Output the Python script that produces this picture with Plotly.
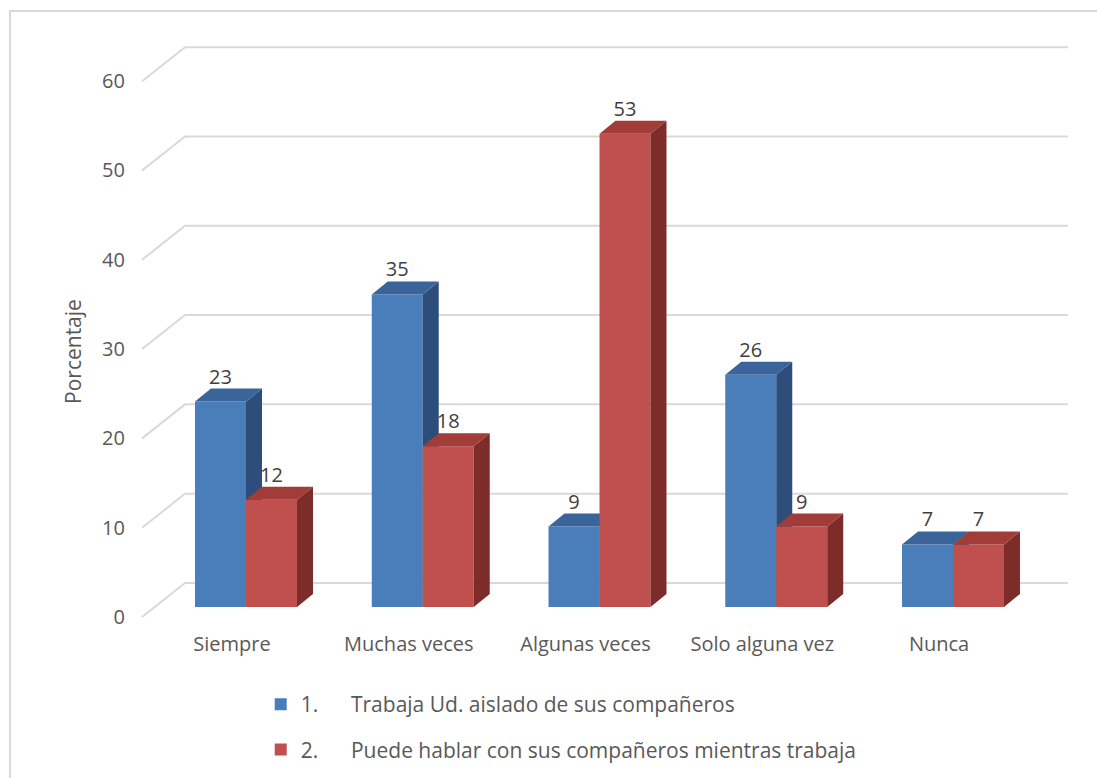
import plotly.graph_objects as go

# ---- data -------------------------------------------------------------
categories = ["Siempre", "Muchas veces", "Algunas veces", "Solo alguna vez", "Nunca"]
serie_aislado = [23, 35, 9, 26, 7]
serie_hablar = [12, 18, 53, 9, 7]
serie_nombres = [
    "1." + "\u00a0" * 6 + "Trabaja Ud. aislado de sus compañeros",
    "2." + "\u00a0" * 6 + "Puede hablar con sus compañeros mientras trabaja",
]
y_ticks = [0, 10, 20, 30, 40, 50, 60]

# ---- pseudo-3D geometry (axis units) ------------------------------------
BAR_W = 0.2885            # width of one column
DEPTH_DX, DEPTH_DY = 0.0905, 1.456   # column depth projection
X_RANGE = [-0.826, 4.7185]
Y_RANGE = [-2.576, 64.61]
WALL_FRONT_X, WALL_BACK_X, WALL_END_X = -0.588, -0.345, 4.65
WALL_FRONT_DY, WALL_BACK_DY = -1.12, 2.69
CAT_LABEL_SHIFT = 0.079

TEXT = "#595959"
FONT = "Open Sans"
GRID = "#D9D9D9"

styles = [
    dict(front="#4A7EBB", top="#3B659A", side="#2D4E7A", offset=-BAR_W / 2),
    dict(front="#C0504D", top="#A13C39", side="#7E2C2A", offset=BAR_W / 2),
]


def face_paths(values, offset):
    """Polygons for the top and right faces of each column."""
    tx, ty, sx, sy = [], [], [], []
    for i, v in enumerate(values):
        x0 = i + offset - BAR_W / 2
        x1 = i + offset + BAR_W / 2
        tx += [x0, x1, x1 + DEPTH_DX, x0 + DEPTH_DX, x0, None]
        ty += [v, v, v + DEPTH_DY, v + DEPTH_DY, v, None]
        sx += [x1, x1 + DEPTH_DX, x1 + DEPTH_DX, x1, x1, None]
        sy += [0, DEPTH_DY, v + DEPTH_DY, v, 0, None]
    return tx, ty, sx, sy


fig = go.Figure()

# each series lives on its own overlaid axis pair so the second one is painted on top
layers = [("x", "y"), ("x2", "y2")]
for k, (values, st, name) in enumerate(zip([serie_aislado, serie_hablar], styles, serie_nombres)):
    xa, ya = layers[k]
    xs = [i + st["offset"] for i in range(len(categories))]
    fig.add_trace(go.Bar(
        x=xs, y=values, width=BAR_W, name=name, legendgroup=f"g{k}",
        marker=dict(color=st["front"], line=dict(width=0)),
        xaxis=xa, yaxis=ya, hoverinfo="y",
    ))
    tx, ty, sx, sy = face_paths(values, st["offset"])
    fig.add_trace(go.Scatter(
        x=sx, y=sy, mode="lines", fill="toself", fillcolor=st["side"],
        line=dict(width=0), showlegend=False, hoverinfo="skip",
        xaxis=xa, yaxis=ya,
    ))
    fig.add_trace(go.Scatter(
        x=tx, y=ty, mode="lines", fill="toself", fillcolor=st["top"],
        line=dict(width=0), showlegend=False, hoverinfo="skip",
        xaxis=xa, yaxis=ya,
    ))
    fig.add_trace(go.Scatter(
        x=xs, y=[v + DEPTH_DY for v in values], mode="text",
        text=[str(v) for v in values], textposition="top center",
        textfont=dict(family=FONT, size=20, color="#404040"),
        showlegend=False, hoverinfo="skip", cliponaxis=False,
        xaxis=xa, yaxis=ya,
    ))

# carrier for the value axis drawn along the side wall
fig.add_trace(go.Scatter(x=[None], y=[None], xaxis="x", yaxis="y3",
                         showlegend=False, hoverinfo="skip"))

# gridlines on the side wall and back wall
shapes = []
for t in y_ticks:
    shapes.append(dict(
        type="path", xref="x", yref="y", layer="below",
        path=(f"M {WALL_FRONT_X},{t + WALL_FRONT_DY} "
              f"L {WALL_BACK_X},{t + WALL_BACK_DY} "
              f"L {WALL_END_X},{t + WALL_BACK_DY}"),
        line=dict(color=GRID, width=2),
    ))
# chart-area frame
shapes.append(dict(type="rect", xref="paper", yref="paper",
                   x0=-0.0918, x1=1.03, y0=-0.3, y1=1.0317,
                   line=dict(color=GRID, width=2), layer="below"))

fig.update_layout(
    width=1097, height=778,
    margin=dict(l=100, r=17, t=30, b=148, autoexpand=False),
    paper_bgcolor="white", plot_bgcolor="white",
    barmode="overlay",
    showlegend=True,
    font=dict(family=FONT, color=TEXT, size=20),
    xaxis=dict(range=X_RANGE, tickvals=[i - CAT_LABEL_SHIFT for i in range(len(categories))],
               ticktext=categories, showgrid=False, zeroline=False, showline=False,
               ticks="", tickfont=dict(size=20, color=TEXT), fixedrange=True,
               automargin=False),
    yaxis=dict(range=Y_RANGE, visible=False, fixedrange=True, automargin=False),
    xaxis2=dict(range=X_RANGE, overlaying="x", visible=False, fixedrange=True),
    yaxis2=dict(range=Y_RANGE, overlaying="y", visible=False, fixedrange=True),
    yaxis3=dict(range=[Y_RANGE[0] - WALL_FRONT_DY, Y_RANGE[1] - WALL_FRONT_DY],
                overlaying="y", anchor="free", position=0.0255, side="left",
                tickvals=y_ticks, showgrid=False, zeroline=False, showline=False,
                ticks="", tickfont=dict(size=20, color=TEXT), fixedrange=True,
                automargin=False),
    legend=dict(orientation="v", x=0.164, xanchor="left", y=-0.09, yanchor="top",
                font=dict(size=21, color=TEXT), tracegroupgap=15,
                bgcolor="rgba(0,0,0,0)"),
    shapes=shapes,
    annotations=[dict(text="Porcentaje", xref="paper", yref="paper",
                      x=-0.0276, y=0.465, xanchor="center", yanchor="middle",
                      textangle=-90, showarrow=False,
                      font=dict(size=21, color=TEXT))],
)

fig.write_html("out.html")
